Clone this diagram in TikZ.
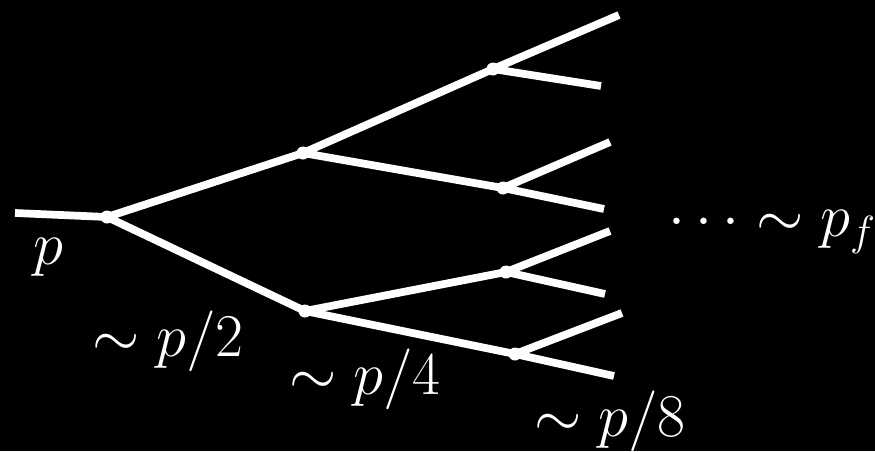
\documentclass[tikz,border=0pt]{standalone}
\usepackage{amsmath,amssymb}

\tikzset{
	branch/.style={white, line width=2.2pt},
	vertex/.style={circle, fill=white, inner sep=0pt, minimum size=0.13cm},
	lbl/.style={text=white, font=\fontsize{16.7}{20}\selectfont}
}

\begin{document}
\begin{tikzpicture}[x=0.01cm, y=-0.01cm]
	\fill[black] (0,0) rectangle (875,451);
	\useasboundingbox (0,0) rectangle (875,451);
	% vertices
	\coordinate (in) at (15,213);
	\node[vertex] (a) at (107,217) {};
	\node[vertex] (b) at (303,153) {};
	\node[vertex] (c) at (305,311) {};
	\node[vertex] (d) at (493,69) {};
	\node[vertex] (e) at (503,188) {};
	\node[vertex] (f) at (506,272) {};
	\node[vertex] (g) at (515,354) {};
	% leaves
	\coordinate (d1) at (619,15);
	\coordinate (d2) at (601,86);
	\coordinate (e1) at (610,142);
	\coordinate (e2) at (604,209);
	\coordinate (f1) at (610,231);
	\coordinate (f2) at (605,294);
	\coordinate (g1) at (622,313);
	\coordinate (g2) at (614,376);
	\draw[branch] (in) -- (a.center);
	\draw[branch] (a.center) -- (b.center) (a.center) -- (c.center);
	\draw[branch] (b.center) -- (d.center) (b.center) -- (e.center);
	\draw[branch] (c.center) -- (f.center) (c.center) -- (g.center);
	\draw[branch] (d.center) -- (d1) (d.center) -- (d2);
	\draw[branch] (e.center) -- (e1) (e.center) -- (e2);
	\draw[branch] (f.center) -- (f1) (f.center) -- (f2);
	\draw[branch] (g.center) -- (g1) (g.center) -- (g2);
	% labels
	\node[lbl] (lp) at (48,257) {$p$};
	\node[lbl] (l2) at (168,341) {$\sim p/2$};
	\node[lbl] (l4) at (365,379) {$\sim p/4$};
	\node[lbl] (l8) at (610,421) {$\sim p/8$};
	\node[lbl, anchor=west] (lf) at (656,232) {$\dots\sim p_f$};
\end{tikzpicture}
\end{document}
